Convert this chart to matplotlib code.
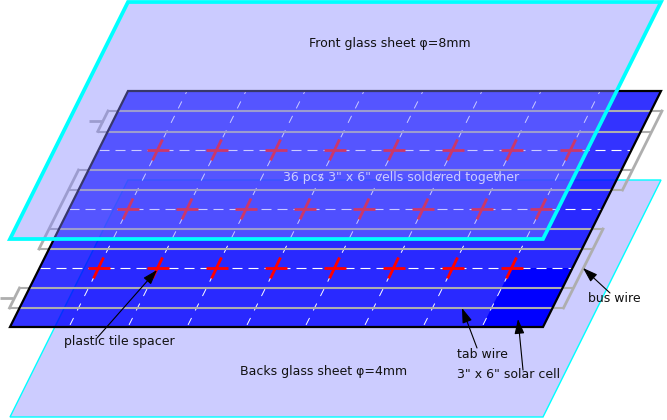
"""Exploded view of a 36 cell solar panel: two glass sheets around the soldered cells."""

import matplotlib
matplotlib.use("Agg")

import matplotlib.pyplot as plt
from matplotlib.patches import Polygon

# --- Diagram geometry, in pixels of the original picture ---
SHEAR = 0.5           # every slanted edge moves this many px left per px down
PANEL_X = 128
PANEL_TOP = 91
PANEL_WIDTH = 533
CELL_W = 59
CELL_H = 59
N_COLS = 9
N_ROWS = 4

front_glass = [(128, 2), (661, 2), (543, 239), (10, 239)]
back_glass = [(128, 180), (661, 180), (543, 417), (10, 417)]

tab_wire_y = [111, 131.5, 170, 190, 229, 249, 288, 308]
wire_left_x = 108
wire_right_x = 662
left_bus_rows = [(170, 249)]
right_bus_rows = [(111, 190), (229, 308)]
left_stubs = [(89, 103, 121), (0, 13, 298)]
top_string_bus = (111, 131.5)
bottom_string_bus = (288, 308)

labels = [
    ("Front glass sheet φ=8mm", 309, 44),
    ("Backs glass sheet φ=4mm", 240, 372),
    ("plastic tile spacer", 64, 342),
    ("tab wire", 457, 354),
    ('3" x 6" solar cell', 457, 375),
    ("bus wire", 588, 299),
]
cells_label = '36 pcs 3" x 6" cells soldered together'

# (tail x, tail y, head x, head y)
arrows = [
    (97, 338, 157, 270),
    (477, 348, 462, 308),
    (523, 370, 518, 319),
    (610, 293, 583, 268),
]

GLASS_FILL = "#ccccff"
FRONT_FILL = (133 / 255, 133 / 255, 1.0, 0.42)
WIRE_GRAY = "#aeaeae"
FONT_SIZE = 9.0


def left_edge(y, ref_x=PANEL_X, ref_y=PANEL_TOP):
    return ref_x - (y - ref_y) * SHEAR


def wire_x(y, ref_x):
    return ref_x - (y - tab_wire_y[0]) * SHEAR


fig = plt.figure(figsize=(6.67, 4.2), dpi=100)
ax = fig.add_axes([0, 0, 1, 1])
ax.set_xlim(0, 667)
ax.set_ylim(420, 0)
ax.axis("off")

# back glass sits behind the see-through panel
ax.add_patch(Polygon(back_glass, closed=True, facecolor=GLASS_FILL, edgecolor="#00ffff",
                     linewidth=1.0, zorder=1))

panel_bottom = PANEL_TOP + N_ROWS * CELL_H
panel = [(PANEL_X, PANEL_TOP), (PANEL_X + PANEL_WIDTH, PANEL_TOP),
         (left_edge(panel_bottom) + PANEL_WIDTH, panel_bottom), (left_edge(panel_bottom), panel_bottom)]
ax.add_patch(Polygon(panel, closed=True, facecolor=(0, 0, 1, 0.8), edgecolor="none", zorder=2))

# one opaque cell, bottom right corner
cell_top = panel_bottom - CELL_H
solid_cell = [(left_edge(cell_top) + (N_COLS - 1) * CELL_W, cell_top),
              (left_edge(cell_top) + PANEL_WIDTH, cell_top),
              (left_edge(panel_bottom) + PANEL_WIDTH, panel_bottom),
              (left_edge(panel_bottom) + (N_COLS - 1) * CELL_W, panel_bottom)]
ax.add_patch(Polygon(solid_cell, closed=True, facecolor="#0000ff", edgecolor="none", zorder=3))

# cell borders (dash patterns get scaled by the line width)
dash_row = (0, (9.0, 5.4))
dash_col = (4.6, (8.0, 8.6))
for row in range(1, N_ROWS):
    y = PANEL_TOP + row * CELL_H
    ax.plot([left_edge(y), left_edge(y) + PANEL_WIDTH], [y, y], color="white", lw=0.8,
            linestyle=dash_row, dash_capstyle="butt", zorder=4)
for col in range(1, N_COLS):
    ax.plot([PANEL_X + col * CELL_W, left_edge(panel_bottom) + col * CELL_W],
            [PANEL_TOP, panel_bottom], color="white", lw=0.7, linestyle=dash_col,
            dash_capstyle="butt", zorder=4)

# tab wires and bus wires
for y in tab_wire_y:
    ax.plot([wire_x(y, wire_left_x), wire_x(y, wire_right_x)], [y, y], color=WIRE_GRAY, lw=1.5,
            solid_capstyle="butt", zorder=5)
for y0, y1 in left_bus_rows + [top_string_bus, bottom_string_bus]:
    ax.plot([wire_x(y0, wire_left_x), wire_x(y1, wire_left_x)], [y0, y1], color=WIRE_GRAY, lw=2.0,
            solid_capstyle="projecting", zorder=5)
for y0, y1 in right_bus_rows:
    ax.plot([wire_x(y0, wire_right_x), wire_x(y1, wire_right_x)], [y0, y1], color=WIRE_GRAY, lw=2.0,
            solid_capstyle="projecting", zorder=5)
for x0, x1, y in left_stubs:
    ax.plot([x0, x1], [y, y], color=WIRE_GRAY, lw=2.0, solid_capstyle="butt", zorder=5)

# tile spacers at the inner cell corners
for row in range(1, N_ROWS):
    y = PANEL_TOP + row * CELL_H
    for col in range(1, N_COLS):
        x = left_edge(y) + col * CELL_W
        ax.plot([x - 11, x + 11], [y, y], color="red", lw=2.0, solid_capstyle="butt", zorder=6)
        ax.plot([x + 5, x - 5], [y - 10.5, y + 10.5], color="red", lw=2.0, solid_capstyle="butt", zorder=6)

# panel outline goes over the wires' crossing points
ax.add_patch(Polygon(panel, closed=True, facecolor="none", edgecolor="black", linewidth=1.6,
                     joinstyle="miter", zorder=7))

ax.text(283, 177, cells_label, fontsize=FONT_SIZE, color="white", va="center", ha="left", zorder=8)

ax.add_patch(Polygon(front_glass, closed=True, facecolor=FRONT_FILL, edgecolor="none", zorder=9))
ax.add_patch(Polygon(front_glass, closed=True, facecolor="none", edgecolor="#00ffff", linewidth=2.7,
                     joinstyle="miter", zorder=10))

for text, x, y in labels:
    ax.text(x, y, text, fontsize=FONT_SIZE, color="#111111", va="center", ha="left", zorder=11)

for x0, y0, x1, y1 in arrows:
    ax.annotate("", xy=(x1, y1), xytext=(x0, y0), zorder=12,
                arrowprops=dict(arrowstyle="-|>,head_length=0.9,head_width=0.3", color="black",
                                lw=0.8, shrinkA=0, shrinkB=0, mutation_scale=10))

fig.savefig("out.png", dpi=100)
plt.close(fig)
